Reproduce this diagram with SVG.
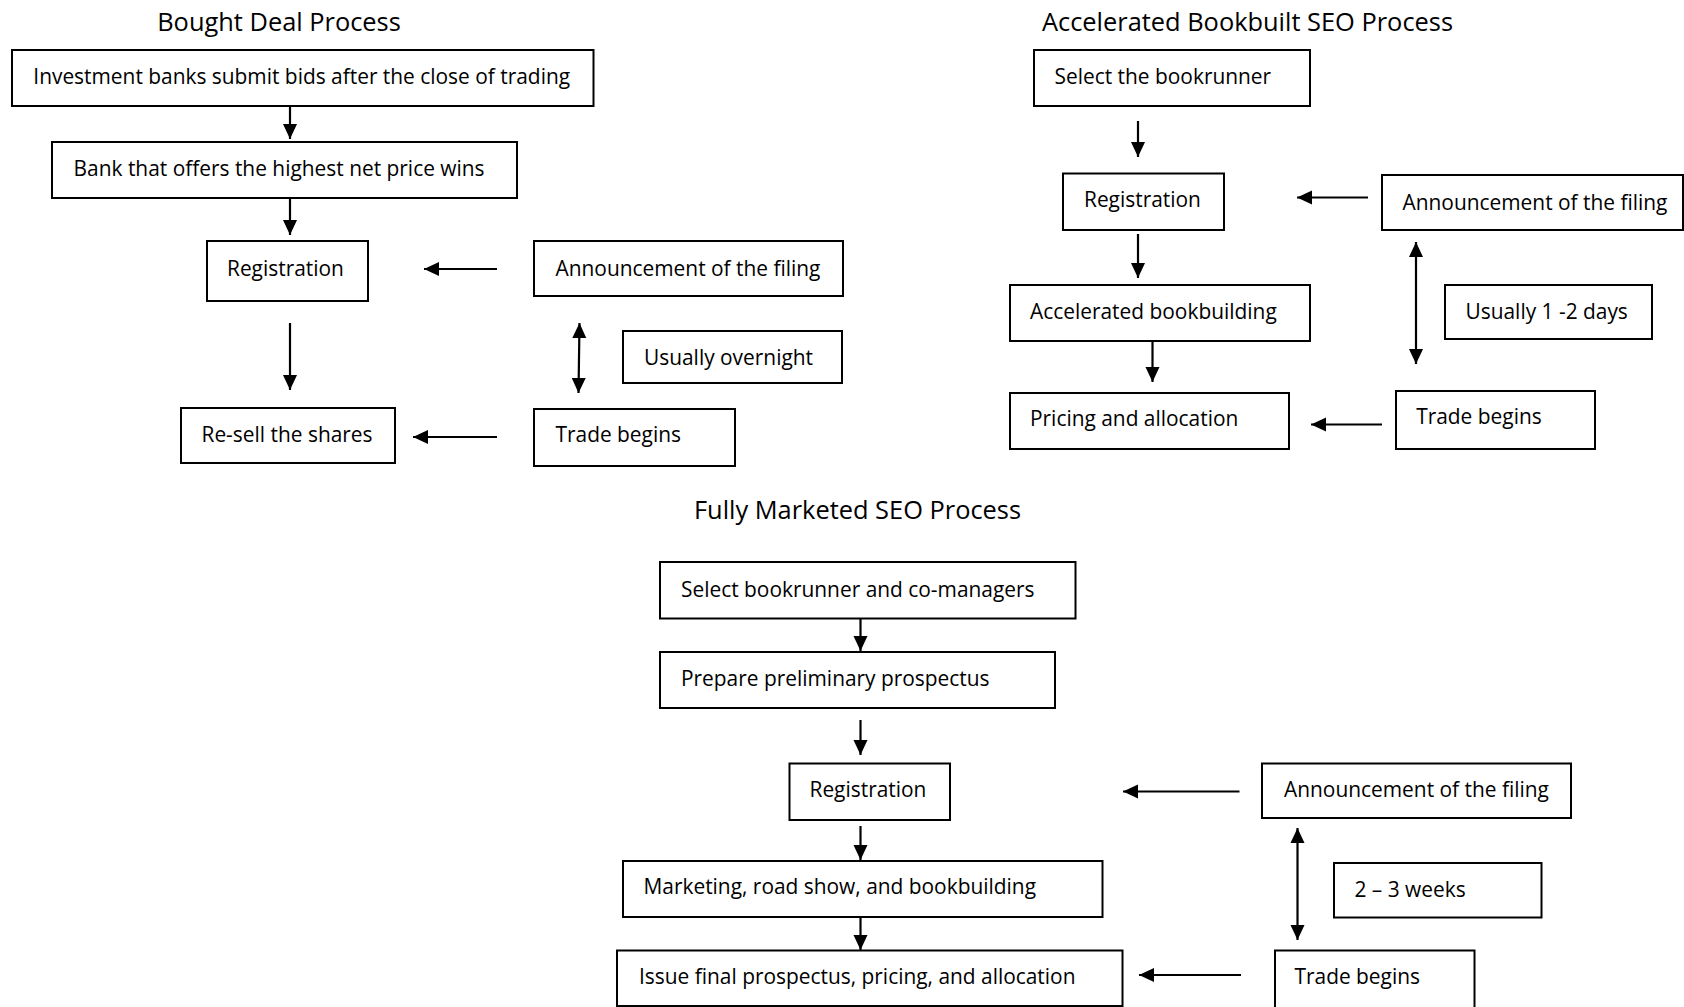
<svg xmlns="http://www.w3.org/2000/svg" width="1684" height="1007" viewBox="0 0 1684 1007">
<style>
.bg{fill:#fff}
.box{fill:#fff;stroke:#000;stroke-width:2}
.t{font-family:"Open Sans","Liberation Sans",sans-serif;font-size:20.9px;fill:#000}
.title{font-family:"Open Sans","Liberation Sans",sans-serif;font-size:25.4px;fill:#000;text-anchor:middle}
.c{stroke:#000;stroke-width:2.2;fill:none}
.a{marker-end:url(#ah)}
.d{marker-end:url(#ah);marker-start:url(#ah)}
</style>
<defs>
<marker id="ah" markerUnits="userSpaceOnUse" markerWidth="16" markerHeight="16" viewBox="0 0 16 16" refX="15" refY="8" orient="auto-start-reverse">
<path d="M0,1 L15,8 L0,15 z" fill="#000"/>
</marker>
</defs>
<rect class="bg" x="0" y="0" width="1684" height="1007"/>

<text class="title" x="279" y="31">Bought Deal Process</text>
<text class="title" x="1247.5" y="30.5">Accelerated Bookbuilt SEO Process</text>
<text class="title" x="857.5" y="519">Fully Marketed SEO Process</text>

<g id="bd-bids"><rect class="box" x="12" y="50" width="581.5" height="56"/><text class="t" x="33.3" y="84">Investment banks submit bids after the close of trading</text></g>
<g id="bd-wins"><rect class="box" x="52" y="142" width="465" height="56"/><text class="t" x="73.6" y="176">Bank that offers the highest net price wins</text></g>
<g id="bd-reg"><rect class="box" x="207" y="241" width="161" height="60"/><text class="t" x="227" y="275.5">Registration</text></g>
<g id="bd-ann"><rect class="box" x="534" y="241" width="309" height="55"/><text class="t" x="555.5" y="275.5">Announcement of the filing</text></g>
<g id="bd-overnight"><rect class="box" x="623" y="331" width="219" height="52"/><text class="t" x="644" y="365">Usually overnight</text></g>
<g id="bd-resell"><rect class="box" x="181" y="408" width="214" height="55"/><text class="t" x="201.5" y="442">Re-sell the shares</text></g>
<g id="bd-trade"><rect class="box" x="534" y="409" width="201" height="57"/><text class="t" x="555.5" y="442">Trade begins</text></g>

<g id="ab-select"><rect class="box" x="1034" y="50" width="276" height="56"/><text class="t" x="1054.5" y="84">Select the bookrunner</text></g>
<g id="ab-reg"><rect class="box" x="1063" y="173.5" width="161" height="56.5"/><text class="t" x="1084" y="207">Registration</text></g>
<g id="ab-ann"><rect class="box" x="1382" y="175" width="301" height="55"/><text class="t" x="1402.5" y="209.5">Announcement of the filing</text></g>
<g id="ab-days"><rect class="box" x="1445" y="285" width="207" height="54"/><text class="t" x="1465.5" y="318.5">Usually 1 -2 days</text></g>
<g id="ab-accel"><rect class="box" x="1010" y="285" width="300" height="56"/><text class="t" x="1030" y="318.5">Accelerated bookbuilding</text></g>
<g id="ab-pricing"><rect class="box" x="1010" y="393" width="279" height="56"/><text class="t" x="1030" y="425.5">Pricing and allocation</text></g>
<g id="ab-trade"><rect class="box" x="1396" y="391" width="199" height="58"/><text class="t" x="1416.2" y="423.5">Trade begins</text></g>

<g id="fm-select"><rect class="box" x="660" y="562" width="415.5" height="56.5"/><text class="t" x="681" y="596.5">Select bookrunner and co-managers</text></g>
<g id="fm-prepare"><rect class="box" x="660" y="652" width="395" height="56"/><text class="t" x="681" y="686">Prepare preliminary prospectus</text></g>
<g id="fm-reg"><rect class="box" x="789.5" y="763.5" width="160.5" height="56.5"/><text class="t" x="809.5" y="797">Registration</text></g>
<g id="fm-ann"><rect class="box" x="1262" y="763.5" width="309" height="54.5"/><text class="t" x="1284" y="796.5">Announcement of the filing</text></g>
<g id="fm-weeks"><rect class="box" x="1334" y="863" width="207.5" height="54.5"/><text class="t" x="1354.5" y="896.5">2 – 3 weeks</text></g>
<g id="fm-marketing"><rect class="box" x="623" y="861" width="479.5" height="56"/><text class="t" x="643.5" y="893.5">Marketing, road show, and bookbuilding</text></g>
<g id="fm-issue"><rect class="box" x="617" y="950.5" width="505.5" height="55.5"/><text class="t" x="639" y="984">Issue final prospectus, pricing, and allocation</text></g>
<g id="fm-trade"><rect class="box" x="1275" y="950.5" width="199.5" height="70"/><text class="t" x="1294.5" y="984">Trade begins</text></g>

<g id="connectors">
<line class="c a" x1="290" y1="106" x2="290" y2="139"/>
<line class="c a" x1="290" y1="199" x2="290" y2="235"/>
<line class="c a" x1="497" y1="269" x2="424" y2="269"/>
<line class="c d" x1="579.5" y1="323" x2="578.5" y2="393"/>
<line class="c a" x1="290" y1="323" x2="290" y2="390"/>
<line class="c a" x1="497" y1="437" x2="413" y2="437"/>

<line class="c a" x1="1138" y1="121" x2="1138" y2="157"/>
<line class="c a" x1="1368" y1="197.5" x2="1297" y2="197.5"/>
<line class="c d" x1="1416" y1="242" x2="1416" y2="364"/>
<line class="c a" x1="1138" y1="234" x2="1138" y2="278"/>
<line class="c a" x1="1152.5" y1="341" x2="1152.5" y2="382"/>
<line class="c a" x1="1382" y1="424.5" x2="1311" y2="424.5"/>

<line class="c a" x1="860.5" y1="618.5" x2="860.5" y2="651"/>
<line class="c a" x1="860.5" y1="720" x2="860.5" y2="755"/>
<line class="c a" x1="1239.5" y1="791.5" x2="1123" y2="791.5"/>
<line class="c d" x1="1297.5" y1="828" x2="1297.5" y2="940"/>
<line class="c a" x1="860.5" y1="826" x2="860.5" y2="860"/>
<line class="c a" x1="860.5" y1="917" x2="860.5" y2="950"/>
<line class="c a" x1="1241" y1="975" x2="1139" y2="975"/>
</g>
</svg>
